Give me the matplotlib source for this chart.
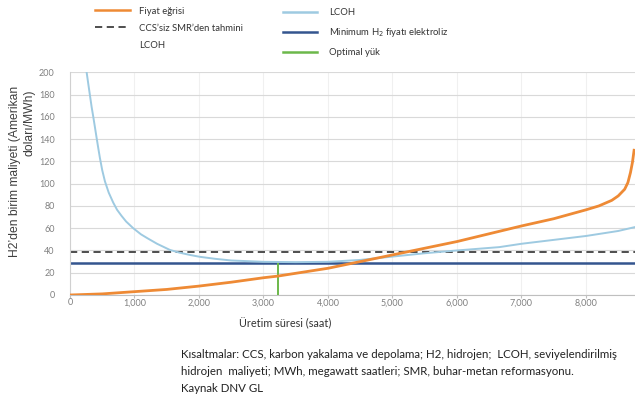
import matplotlib.pyplot as plt
from matplotlib.lines import Line2D

# price curve (orange)
price_hours = [0, 500, 1000, 1500, 2000, 2500, 3000, 3225, 3500, 4000, 4500, 5000,
               5500, 6000, 6500, 7000, 7500, 8000, 8200, 8400, 8500, 8600, 8650,
               8690, 8720, 8746]
price = [0, 1, 3, 5, 8, 11.5, 15.5, 17, 19.5, 24, 30, 36,
         42, 48, 55, 62, 68.5, 76.5, 80, 85, 89, 95, 101,
         110, 119, 130]

# LCOH (light blue)
lcoh_hours = [258, 285, 310, 335, 361, 387, 413, 438, 464, 500, 542, 600, 670, 730,
              800, 870, 980, 1100, 1200, 1350, 1548, 1700, 1858, 2012, 2250,
              2500, 3000, 3500, 4000, 4500, 5000, 5500, 6000, 6656, 7000, 7500,
              8000, 8500, 8760]
lcoh = [200, 189, 179, 169, 160, 150.5, 141, 132, 123, 112, 102, 92, 83, 76.5,
        71, 66, 60, 54.5, 51, 46, 40.5, 38, 36, 34.3, 32.5,
        31, 29.8, 29.5, 29.8, 31.5, 34.5, 37.5, 40, 43, 46, 49.5,
        53, 57.5, 61]

smr_lcoh = 39
min_h2_price = 29
optimal_hours = 3225

xticks = [0, 1000, 2000, 3000, 4000, 5000, 6000, 7000, 8000]
xtick_labels = ['0', '1,000', '2,000', '3,000', '4,000', '5,000', '6,000', '7,000', '8,000']
yticks = list(range(0, 220, 20))

c_orange = '#ee8a35'
c_light = '#9ecae1'
c_dark = '#34558f'
c_green = '#6cb84a'
c_dash = '#404040'

plt.rcParams['font.family'] = ['Lato', 'DejaVu Sans']

fig = plt.figure(figsize=(6.35, 4.03), dpi=100)
ax = fig.add_axes([70 / 635, 1 - 295 / 403, 565 / 635, (295 - 72.3) / 403])

ax.axhline(smr_lcoh, color=c_dash, lw=1.3, dashes=(4, 2.5), zorder=2)
ax.axhline(min_h2_price, color=c_dark, lw=1.8, zorder=2)
ax.vlines(optimal_hours, 0, min_h2_price, color=c_green, lw=1.4, zorder=3)
ax.plot(lcoh_hours, lcoh, color=c_light, lw=1.4, zorder=3)
ax.plot(price_hours, price, color=c_orange, lw=2.0, zorder=4)

ax.set_xlim(0, 8760)
ax.set_ylim(0, 200)
ax.set_xticks(xticks)
ax.set_xticklabels(xtick_labels)
ax.set_yticks(yticks)
ax.grid(axis='y', color='#d9d9d9', lw=0.8)
ax.grid(axis='x', color='#f0f0f0', lw=0.8)
ax.set_axisbelow(True)
for s in ['top', 'right']:
    ax.spines[s].set_visible(False)
ax.spines['left'].set_color('#d0d0d0')
ax.spines['bottom'].set_color('#bfbfbf')
ax.tick_params(axis='y', length=0, pad=11, labelsize=6.5, labelcolor='#808080')
ax.tick_params(axis='x', length=2, color='#bfbfbf', pad=0.5, labelsize=6.5, labelcolor='#808080')

ax.set_xlabel('Üretim süresi (saat)', fontsize=7.8, color='#333333', va='center')
ax.xaxis.set_label_coords((285 - 70) / 565, (295 - 323) / 222.7)

fig.text(15.5 / 635, 1 - 171 / 403, 'H2\u2019den birim maliyeti (Amerikan', rotation=90,
         ha='center', va='center', fontsize=8.7, color='#404040', family='Liberation Sans')
fig.text(30 / 635, 1 - 123 / 403, 'doları/MWh)', rotation=90,
         ha='center', va='center', fontsize=8.7, color='#404040', family='Liberation Sans')

# legend, two columns
h1 = [Line2D([], [], color=c_orange, lw=1.8),
      Line2D([], [], color=c_dash, lw=1.3, dashes=(4, 2.5)),
      Line2D([], [], color='none')]
l1 = ['Fiyat eğrisi', 'CCS\u2019siz SMR\u2019den tahmini', 'LCOH']
h2 = [Line2D([], [], color=c_light, lw=1.8),
      Line2D([], [], color=c_dark, lw=1.8),
      Line2D([], [], color=c_green, lw=1.8)]
l2 = ['LCOH', 'Minimum H$_2$ fiyatı elektroliz', 'Optimal yük']
kw = dict(frameon=False, loc='upper left', fontsize=6.8, borderpad=0, borderaxespad=0)
leg1 = fig.legend(h1, l1, bbox_to_anchor=(95 / 635, 1 - 6.5 / 403), handlelength=3.7,
                  handletextpad=0.95, labelspacing=0.87, **kw)
for t in leg1.get_texts():
    t.set_color('#333333')
leg2 = fig.legend(h2, l2, bbox_to_anchor=(283 / 635, 1 - 8 / 403), handlelength=3.6,
                  handletextpad=1.27, labelspacing=0.95, **kw)
for t in leg2.get_texts():
    t.set_color('#333333')

caption = ('Kısaltmalar: CCS, karbon yakalama ve depolama; H2, hidrojen;  LCOH, seviyelendirilmiş\n'
           'hidrojen  maliyeti; MWh, megawatt saatleri; SMR, buhar-metan reformasyonu.\n'
           'Kaynak DNV GL')
fig.text(181 / 635, 1 - 349.5 / 403, caption, ha='left', va='top', fontsize=8.3,
         color='#222222', linespacing=1.62)

fig.savefig('out.png', dpi=100)
